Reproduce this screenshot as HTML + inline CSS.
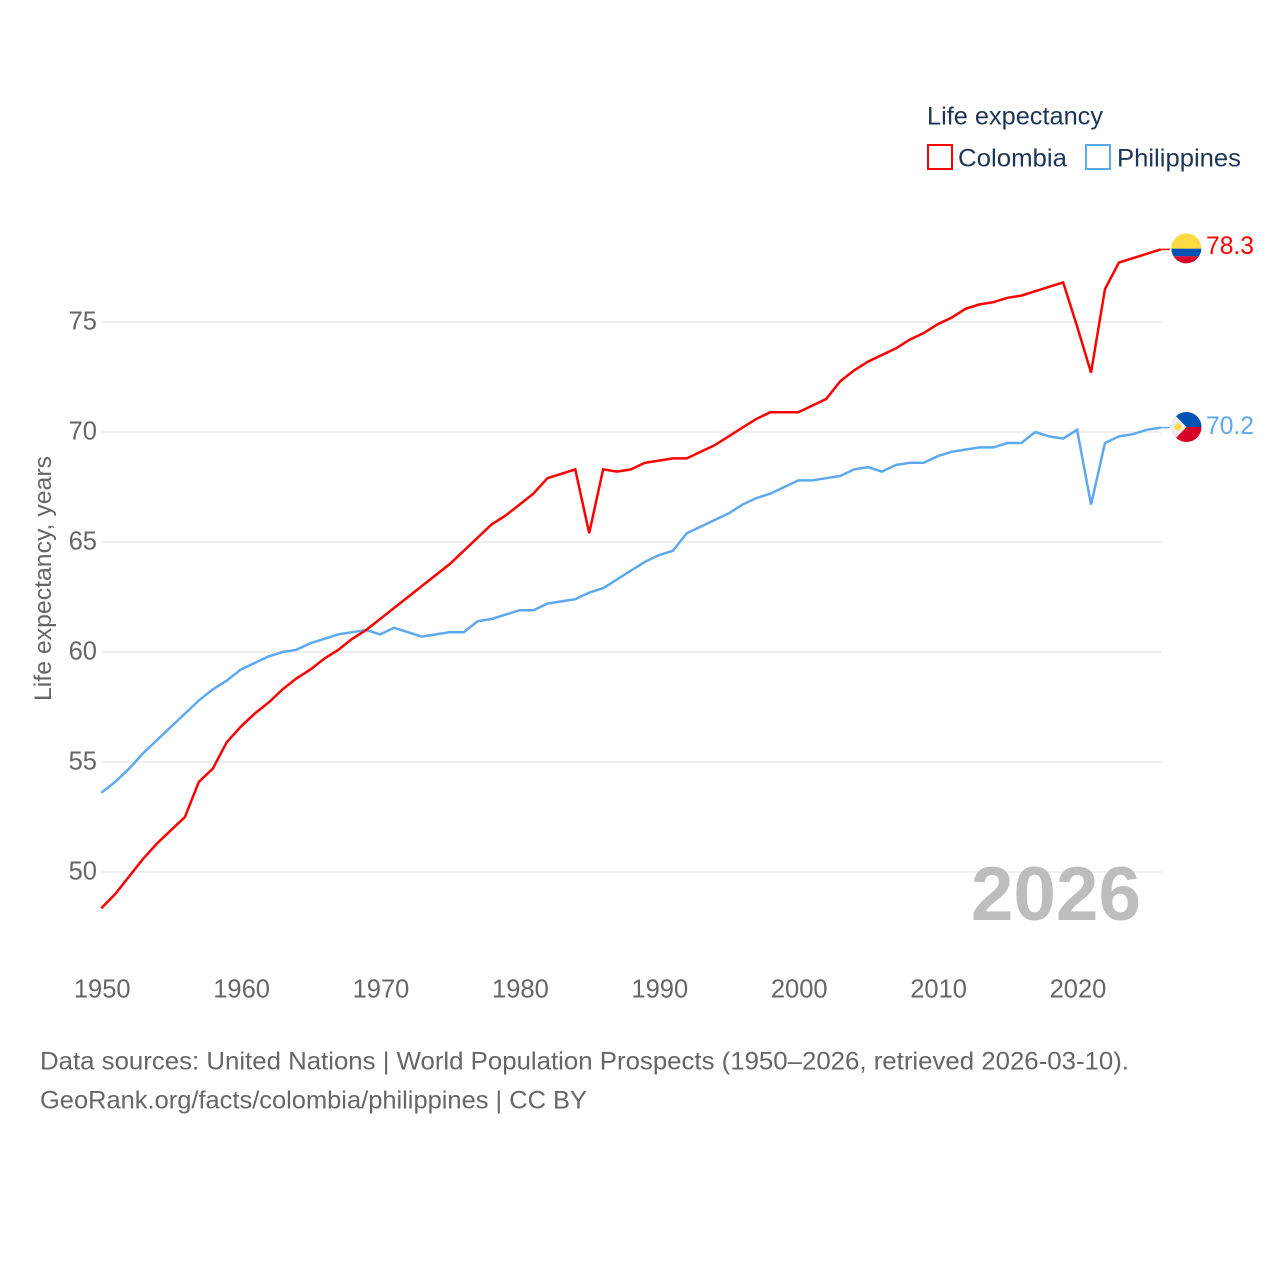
<!DOCTYPE html>
<html lang="en">
<head>
<meta charset="utf-8">
<title>Life expectancy: Colombia vs Philippines</title>
<style>
html,body{margin:0;padding:0;background:#fff;}
svg{display:block;font-family:"Liberation Sans",sans-serif;}
</style>
</head>
<body>
<svg id="chart" xmlns="http://www.w3.org/2000/svg" width="1280" height="1280" viewBox="0 0 1280 1280">
  <defs>
    <clipPath id="clip-co"><circle cx="1186.3" cy="248.4" r="15"/></clipPath>
    <clipPath id="clip-ph"><circle cx="1186.5" cy="427" r="15"/></clipPath>
  </defs>
  <rect x="0" y="0" width="1280" height="1280" fill="#ffffff"/>
  <g id="grid"></g>
  <g id="y-ticks"></g>
  <g id="x-ticks"></g>
  <text transform="translate(51,701) rotate(-90)" font-size="24.5" fill="#666666" textLength="245" lengthAdjust="spacingAndGlyphs">Life expectancy, years</text>
  <text x="1141" y="920" text-anchor="end" font-size="76.5" font-weight="bold" fill="#bdbdbd">2026</text>
  <g id="series"></g>

  <g clip-path="url(#clip-co)">
    <rect x="1170" y="232" width="33" height="17" fill="#ffda44"/>
    <rect x="1170" y="248.7" width="33" height="7.6" fill="#0052b4"/>
    <rect x="1170" y="256.3" width="33" height="9" fill="#d80027"/>
  </g>
  <g clip-path="url(#clip-ph)">
    <rect x="1170" y="411" width="33" height="16" fill="#0052b4"/>
    <rect x="1170" y="427" width="33" height="16" fill="#d80027"/>
    <polygon points="1171,411 1186.5,427 1171,443" fill="#f0f0f0"/>
    <circle cx="1178" cy="427" r="3.6" fill="#ffda44"/>
  </g>
  <text id="label-co" x="1206" y="254" font-size="25" fill="#ff0000" textLength="48" lengthAdjust="spacingAndGlyphs">78.3</text>
  <text id="label-ph" x="1206" y="434" font-size="25" fill="#5ea9ee" textLength="48" lengthAdjust="spacingAndGlyphs">70.2</text>

  <g>
    <text x="927" y="124.5" font-size="25" fill="#1d3557" textLength="176" lengthAdjust="spacingAndGlyphs">Life expectancy</text>
    <rect x="928" y="145" width="24" height="24" fill="none" stroke="#ff0000" stroke-width="2"/>
    <text x="958" y="166.5" font-size="25" fill="#1d3557" textLength="109" lengthAdjust="spacingAndGlyphs">Colombia</text>
    <rect x="1086" y="145" width="24" height="24" fill="none" stroke="#5ea9ee" stroke-width="2"/>
    <text x="1117" y="166.5" font-size="25" fill="#1d3557" textLength="124" lengthAdjust="spacingAndGlyphs">Philippines</text>
  </g>

  <text x="40" y="1069.5" font-size="25" fill="#666666" textLength="1089" lengthAdjust="spacingAndGlyphs">Data sources: United Nations | World Population Prospects (1950–2026, retrieved 2026-03-10).</text>
  <text x="40" y="1108.5" font-size="25" fill="#666666" textLength="547" lengthAdjust="spacingAndGlyphs">GeoRank.org/facts/colombia/philippines | CC BY</text>
</svg>
<script>
const firstYear = 1950;
const yTickValues = [50, 55, 60, 65, 70, 75];
const xTickValues = [1950, 1960, 1970, 1980, 1990, 2000, 2010, 2020];
const colombiaValues = [
  48.35, 49.0, 49.8, 50.6, 51.3, 51.9, 52.5, 54.1, 54.7, 55.9,
  56.6, 57.2, 57.7, 58.3, 58.8, 59.2, 59.7, 60.1, 60.6, 61.0,
  61.5, 62.0, 62.5, 63.0, 63.5, 64.0, 64.6, 65.2, 65.8, 66.2,
  66.7, 67.2, 67.9, 68.1, 68.3, 65.4, 68.3, 68.2, 68.3, 68.6,
  68.7, 68.8, 68.8, 69.1, 69.4, 69.8, 70.2, 70.6, 70.9, 70.9,
  70.9, 71.2, 71.5, 72.3, 72.8, 73.2, 73.5, 73.8, 74.2, 74.5,
  74.9, 75.2, 75.6, 75.8, 75.9, 76.1, 76.2, 76.4, 76.6, 76.8,
  74.8, 72.7, 76.5, 77.7, 77.9, 78.1, 78.3
];
const philippinesValues = [
  53.6, 54.1, 54.7, 55.4, 56.0, 56.6, 57.2, 57.8, 58.3, 58.7,
  59.2, 59.5, 59.8, 60.0, 60.1, 60.4, 60.6, 60.8, 60.9, 61.0,
  60.8, 61.1, 60.9, 60.7, 60.8, 60.9, 60.9, 61.4, 61.5, 61.7,
  61.9, 61.9, 62.2, 62.3, 62.4, 62.7, 62.9, 63.3, 63.7, 64.1,
  64.4, 64.6, 65.4, 65.7, 66.0, 66.3, 66.7, 67.0, 67.2, 67.5,
  67.8, 67.8, 67.9, 68.0, 68.3, 68.4, 68.2, 68.5, 68.6, 68.6,
  68.9, 69.1, 69.2, 69.3, 69.3, 69.5, 69.5, 70.0, 69.8, 69.7,
  70.1, 66.7, 69.5, 69.8, 69.9, 70.1, 70.2
];

const NS = 'http://www.w3.org/2000/svg';
function xScale(year) { return 101.3 + (year - 1950) * 13.94; }
function yScale(v) { return 872 - (v - 50) * 22; }

const gridGroup = document.getElementById('grid');
const yTickGroup = document.getElementById('y-ticks');
const xTickGroup = document.getElementById('x-ticks');
const seriesGroup = document.getElementById('series');

yTickValues.forEach(function (v) {
  const line = document.createElementNS(NS, 'line');
  
  
  line.setAttribute('x1', 101.5);
  line.setAttribute('x2', 1161.5);
  line.setAttribute('y1', yScale(v));
  line.setAttribute('y2', yScale(v));
  line.setAttribute('stroke', '#ececec');
  line.setAttribute('stroke-width', 1.4);
  gridGroup.appendChild(line);

  const label = document.createElementNS(NS, 'text');
  
  
  label.setAttribute('x', 97);
  label.setAttribute('y', yScale(v) + 7.5);
  label.setAttribute('text-anchor', 'end');
  label.setAttribute('font-size', 25.5);
  label.setAttribute('fill', '#666666');
  label.textContent = String(v);
  yTickGroup.appendChild(label);
});

xTickValues.forEach(function (year) {
  const label = document.createElementNS(NS, 'text');
  
  
  label.setAttribute('x', xScale(year) + 0.9);
  label.setAttribute('y', 997.5);
  label.setAttribute('text-anchor', 'middle');
  label.setAttribute('font-size', 25.5);
  label.setAttribute('fill', '#666666');
  label.textContent = String(year);
  xTickGroup.appendChild(label);
});

function pointsFor(values) {
  return values.map(function (v, i) {
    return xScale(firstYear + i).toFixed(2) + ',' + yScale(v).toFixed(2);
  }).join(' ');
}

function drawSeries(values, color, name) {
  const line = document.createElementNS(NS, 'polyline');
  
  
  line.setAttribute('points', pointsFor(values));
  line.setAttribute('fill', 'none');
  line.setAttribute('stroke', color);
  line.setAttribute('stroke-width', 2.5);
  line.setAttribute('stroke-linejoin', 'miter');
  seriesGroup.appendChild(line);

  const lastIndex = values.length - 1;
  const lastY = yScale(values[lastIndex]);
  const lastX = xScale(firstYear + lastIndex);
  const connector = document.createElementNS(NS, 'line');
  
  
  connector.setAttribute('x1', lastX);
  connector.setAttribute('x2', lastX + 9);
  connector.setAttribute('y1', lastY);
  connector.setAttribute('y2', lastY);
  connector.setAttribute('stroke', color);
  connector.setAttribute('stroke-width', 1.5);
  seriesGroup.appendChild(connector);
}

drawSeries(philippinesValues, '#5ea9ee', 'philippines');
drawSeries(colombiaValues, '#ff0000', 'colombia');

document.getElementById('label-co').textContent = colombiaValues[colombiaValues.length - 1].toFixed(1);
document.getElementById('label-ph').textContent = philippinesValues[philippinesValues.length - 1].toFixed(1);
</script>
</body>
</html>
